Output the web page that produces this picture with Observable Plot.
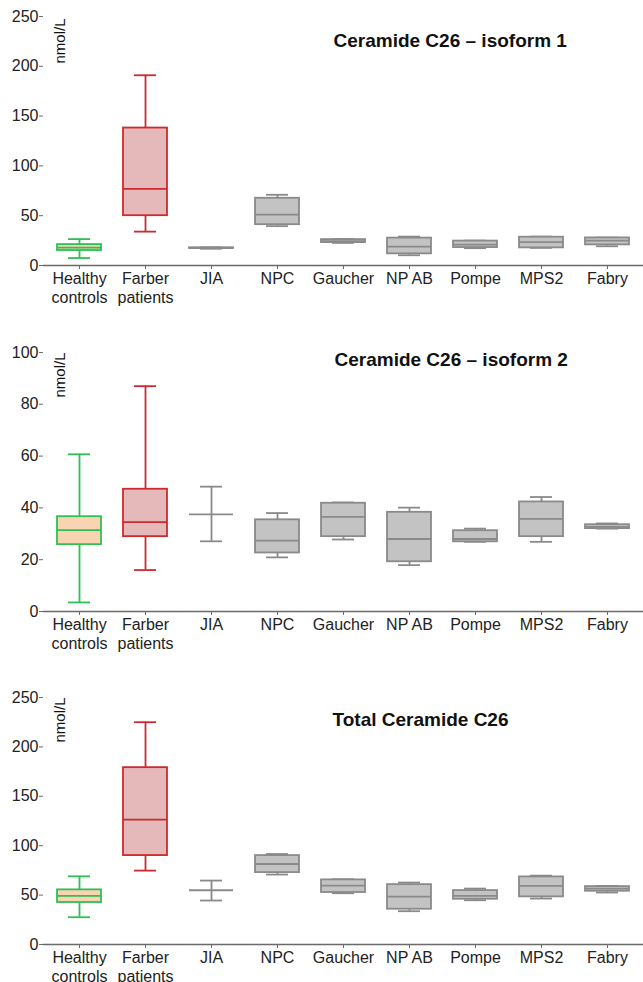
<!DOCTYPE html>
<html>
<head>
<meta charset="utf-8">
<script src="https://cdn.jsdelivr.net/npm/d3@7"></script>
<script src="https://cdn.jsdelivr.net/npm/@observablehq/plot@0.6"></script>
<style>
  body { margin: 0; background: #fff; font-family: "Liberation Sans", Arial, sans-serif; }
  #chart { width: 643px; height: 982px; overflow: hidden; }
  #chart svg { display: block; overflow: visible; }
</style>
</head>
<body>
<div id="chart"></div>
<script>
const categories = ["Healthy\ncontrols", "Farber\npatients", "JIA", "NPC", "Gaucher", "NP AB", "Pompe", "MPS2", "Fabry"];
const groupType = ["control", "farber", "other", "other", "other", "other", "other", "other", "other"];

// five-number summaries per category
const iso1 = {
  min: [7.5, 34, 16.8, 39.5, 22.7, 10.3, 17.4, 17.7, 19.3],
  q1:  [15, 50, 17.2, 41, 23, 11.7, 18, 17.7, 20.7],
  med: [18, 77, 17.5, 51, 24.5, 19, 21, 23.4, 25],
  q3:  [21, 138, 17.8, 67.5, 26, 27.5, 24.5, 28.4, 27.7],
  max: [26.5, 191, 18.2, 71, 26.5, 29, 25, 29, 28]
};
const iso2 = {
  min: [3.5, 16, 27.1, 20.9, 27.8, 17.9, 26.9, 26.9, 32],
  q1:  [25.8, 28.9, 37.5, 22.6, 28.9, 19.2, 26.9, 28.9, 32],
  med: [31.4, 34.5, 37.5, 27.4, 36.5, 28, 28, 35.8, 32.7],
  q3:  [36.6, 47.2, 37.5, 35.4, 41.8, 38.3, 31.2, 42.3, 33.5],
  max: [60.7, 87, 48.2, 38, 42.1, 40.1, 32, 44.2, 34]
};
const total = {
  min: [27.6, 74.8, 44.5, 70.8, 51.9, 33.7, 44.8, 46.5, 52.6],
  q1:  [42.5, 90, 54.9, 72.8, 52.6, 35.7, 45.8, 48.2, 53.9],
  med: [49.2, 126.3, 54.9, 81.5, 59.6, 48.5, 49.2, 59.3, 56.5],
  q3:  [55.3, 179, 54.9, 90, 65.4, 60.6, 54.6, 68.4, 58.6],
  max: [69, 225, 64.7, 91.6, 66, 62.7, 56.6, 69.7, 59.3]
};

const titles = ["Ceramide C26 – isoform 1", "Ceramide C26 – isoform 2", "Total Ceramide C26"];
const yTicks1 = [0, 50, 100, 150, 200, 250];
const yTicks2 = [0, 20, 40, 60, 80, 100];
const yTicks3 = [0, 50, 100, 150, 200, 250];

const strokeColors = {control: "#2fbf55", farber: "#cc2a2f", other: "#8a8a8a"};
const fillColors = {control: "#f8d4b3", farber: "#e5b8b9", other: "#c3c3c3"};

function rows(s) {
  return categories.map((c, i) => ({
    cat: c, type: groupType[i],
    min: s.min[i], q1: s.q1[i], med: s.med[i], q3: s.q3[i], max: s.max[i]
  }));
}

const axisColor = "#6a6a6a";
const sw = 1.8;

function panel(series, title, ticks, yMax, cfg) {
  const data = rows(series);
  const stroke = d => strokeColors[d.type];
  return Plot.plot({
    width: 643,
    height: cfg.height,
    marginLeft: 43,
    marginRight: 0,
    marginTop: cfg.top,
    marginBottom: cfg.bottom,
    style: {fontFamily: "'Liberation Sans', Arial, sans-serif", fontSize: "16px", color: "#222", background: "transparent", overflow: "visible"},
    x: {type: "band", domain: categories, padding: 0, label: null},
    y: {domain: [0, yMax], label: null},
    marks: [
      Plot.ruleX(data, {x: "cat", y1: "min", y2: "q1", stroke, strokeWidth: sw}),
      Plot.ruleX(data, {x: "cat", y1: "q3", y2: "max", stroke, strokeWidth: sw}),
      Plot.tickY(data, {x: "cat", y: "min", stroke, strokeWidth: sw, insetLeft: 22, insetRight: 22}),
      Plot.tickY(data, {x: "cat", y: "max", stroke, strokeWidth: sw, insetLeft: 22, insetRight: 22}),
      Plot.barY(data, {x: "cat", y1: "q1", y2: "q3", fill: d => fillColors[d.type], stroke, strokeWidth: sw, insetLeft: 11, insetRight: 11}),
      Plot.tickY(data, {x: "cat", y: "med", stroke, strokeWidth: sw, insetLeft: 11, insetRight: 11}),
      Plot.axisY({ticks, tickSize: 4, tickPadding: 1, stroke: axisColor, fill: "#222", fontSize: 16, label: null}),
      Plot.ruleX([0], {frameAnchor: "left", stroke: axisColor, strokeWidth: 1.6}),
      Plot.ruleY([0], {stroke: axisColor, strokeWidth: 1.6}),
      Plot.axisX({tickSize: 4, tickPadding: 1, stroke: axisColor, fill: "#222", fontSize: 16, lineHeight: 1.18, label: null}),
      Plot.text(["nmol/L"], {frameAnchor: "top-left", lineAnchor: "middle", rotate: -90, textAnchor: "end", dx: 17, dy: cfg.unitDy, fontSize: 15, fill: "#111"}),
      Plot.text([title], {frameAnchor: "top-left", lineAnchor: "middle", textAnchor: "start", dx: cfg.titleDx, dy: cfg.titleDy, fontSize: 19, fontWeight: "bold", fill: "#111"})
    ]
  });
}

const chart = document.getElementById("chart");
chart.append(panel(iso1, titles[0], yTicks1, 250, {height: 320, top: 16, bottom: 55, unitDy: 2, titleDx: 290, titleDy: 24}));
chart.append(panel(iso2, titles[1], yTicks2, 100, {height: 340, top: 32, bottom: 49, unitDy: 0, titleDx: 291, titleDy: 7}));
chart.append(panel(total, titles[2], yTicks3, 250, {height: 322, top: 37, bottom: 38, unitDy: 0, titleDx: 289, titleDy: 22}));
</script>
</body>
</html>
